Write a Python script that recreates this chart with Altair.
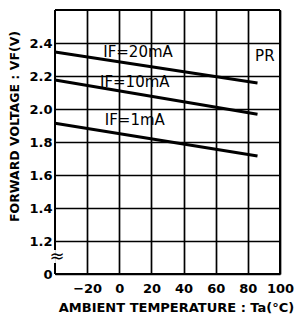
import altair as alt
import pandas as pd

# data
temps = [-40, 86]
vf_20mA = [2.345, 2.158]
vf_10mA = [2.176, 1.968]
vf_1mA = [1.913, 1.715]
series_names = ["IF=20mA", "IF=10mA", "IF=1mA"]

x_ticks = [-20, 0, 20, 40, 60, 80, 100]
y_ticks = [1.0, 1.2, 1.4, 1.6, 1.8, 2.0, 2.2, 2.4]

labels_text = ["IF=20mA", "IF=10mA", "IF=1mA", "PR"]
labels_x = [-10, -12, -9, 84.5]
labels_y = [2.345, 2.164, 1.933, 2.321]

X_MIN, X_MAX = -40, 100
Y_MIN, Y_MAX = 1.0, 2.6

rows = []
for name, vals in zip(series_names, [vf_20mA, vf_10mA, vf_1mA]):
    for t, v in zip(temps, vals):
        rows.append({"series": name, "t": t, "v": v})
df = pd.DataFrame(rows)

xs = alt.Scale(domain=[X_MIN, X_MAX], nice=False, zero=False)
ys = alt.Scale(domain=[Y_MIN, Y_MAX], nice=False, zero=False)

FONT = "DejaVu Sans"

x_axis = alt.Axis(
    values=x_ticks, grid=True, gridColor="black", gridWidth=1.7, gridOpacity=1,
    domain=False, ticks=False, labelPadding=8, labelOverlap=False, labelFlush=False,
    labelFont=FONT, labelFontWeight="bold", labelFontSize=13, labelColor="black",
    title="AMBIENT TEMPERATURE : Ta(°C)", titleFont=FONT, titleFontWeight="bold",
    titleFontSize=13, titleColor="black", titleX=121, titleY=33,
    titleBaseline="middle", titleAlign="center")
y_axis = alt.Axis(
    values=y_ticks, grid=True, gridColor="black", gridWidth=1.7, gridOpacity=1,
    domain=False, ticks=False, labelPadding=3, labelOverlap=False, labelFlush=False,
    labelExpr="datum.value == 1 ? '0' : format(datum.value, '.1f')",
    labelFont=FONT, labelFontWeight="bold", labelFontSize=13, labelColor="black",
    title="FORWARD VOLTAGE : VF(V)", titleFont=FONT, titleFontWeight="bold",
    titleFontSize=12.5, titleColor="black", titleX=-41, titleY=116,
    titleAngle=-90, titleBaseline="middle", titleAlign="center")

# frame (left side with an axis break)
frame_df = pd.DataFrame({
    "t": [X_MIN, X_MIN, X_MAX, X_MIN, X_MIN],
    "t2": [X_MAX, X_MAX, X_MAX, X_MIN, X_MIN],
    "v": [Y_MAX, Y_MIN, Y_MIN, Y_MIN, 1.145],
    "v2": [Y_MAX, Y_MIN, Y_MAX, 1.067, Y_MAX],
})
frame = alt.Chart(frame_df).mark_rule(color="black", strokeWidth=2).encode(
    x=alt.X("t:Q", scale=xs, axis=x_axis), x2="t2:Q",
    y=alt.Y("v:Q", scale=ys, axis=y_axis), y2="v2:Q",
)

brk = alt.Chart(pd.DataFrame({"t": [X_MIN], "v": [1.106], "s": ["≈"]})).mark_text(
    font=FONT, fontSize=18, color="black", dx=2
).encode(x=alt.X("t:Q", scale=xs, axis=x_axis), y=alt.Y("v:Q", scale=ys, axis=y_axis), text="s:N")

lines = alt.Chart(df).mark_line(color="black", strokeWidth=3).encode(
    x=alt.X("t:Q", scale=xs, axis=x_axis), y=alt.Y("v:Q", scale=ys, axis=y_axis), detail="series:N"
)

lab_df = pd.DataFrame({"t": labels_x, "v": labels_y, "s": labels_text})
labs = alt.Chart(lab_df).mark_text(
    font=FONT, fontSize=15, color="black", align="left", baseline="middle"
).encode(x=alt.X("t:Q", scale=xs, axis=x_axis), y=alt.Y("v:Q", scale=ys, axis=y_axis), text="s:N")

chart = alt.layer(frame, lines, brk, labs).properties(
    width=225, height=264,
    autosize=alt.AutoSizeParams(type="none"),
    padding={"left": 47, "top": 2, "right": 16, "bottom": 40},
).configure_view(stroke=None).configure(background="white")

chart.save("out.html", embed_options={"renderer": "svg", "actions": False})
